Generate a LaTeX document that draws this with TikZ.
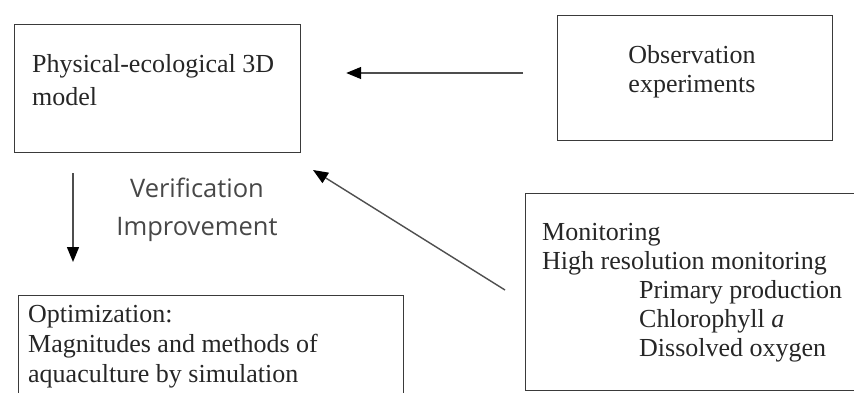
\documentclass[tikz,border=0pt]{standalone}
\usepackage{fontspec}
\setmainfont{Liberation Serif}
\newfontfamily\labelsans{Open Sans}
\usetikzlibrary{arrows.meta}
\definecolor{ink}{HTML}{262626}
\definecolor{linegray}{HTML}{3A3A3A}
\begin{document}
\begin{tikzpicture}[x=1pt,y=-1pt,
  box/.style={draw=linegray, line width=1.2pt, anchor=north west, inner sep=0pt},
  body/.style={anchor=north west, inner sep=0pt, align=left, text=ink,
    font=\fontsize{26}{29}\selectfont},
  side/.style={inner sep=0pt, align=center, text=ink!85,
    font=\labelsans\fontsize{25.5}{38}\selectfont},
  arr/.style={draw=linegray!90, line width=1.4pt,
    -{Triangle[length=15pt,width=12pt,color=black]}}]
\useasboundingbox (0,0) rectangle (854,392);
\clip (0,0) rectangle (854,392);

% frames
\node[box, minimum width=286pt, minimum height=128pt] (model) at (14,24) {};
\node[box, minimum width=275pt, minimum height=125pt] (obs) at (557,15) {};
\node[box, minimum width=340pt, minimum height=197pt] (mon) at (525,193) {};
\node[box, minimum width=385pt, minimum height=130pt] (opt) at (18,295) {};

% texts
\node[body, font=\fontsize{26}{33}\selectfont] (modeltxt) at (32,54) {Physical-ecological 3D\\model};
\node[body, align=center, anchor=north] (obstxt) at (692,45) {Observation\\experiments};
\node[body] (montxt) at (542,223) {Monitoring\\High resolution monitoring\\
  \hspace*{97pt}Primary production\\
  \hspace*{97pt}Chlorophyll \textit{a}\\
  \hspace*{97pt}Dissolved oxygen};
\node[body, font=\fontsize{26}{30}\selectfont] (opttxt) at (28,305) {Optimization:\\Magnitudes and methods of\\aquaculture by simulation};
\node[side, anchor=north] (vi) at (197,178) {Verification\\Improvement};

% connectors
\coordinate (dx) at (73,0);
\draw[arr, shorten <=20pt, shorten >=33pt] (model.south -| dx) -- (opt.north -| dx);
\coordinate (hy) at (0,73);
\draw[arr, shorten <=34pt, shorten >=45pt] (obs.west |- hy) -- (model.east |- hy);
\coordinate (dtail) at (505,290);
\coordinate (dhead) at (313,170);
\draw[arr] (dtail) -- (dhead);
\end{tikzpicture}
\end{document}
